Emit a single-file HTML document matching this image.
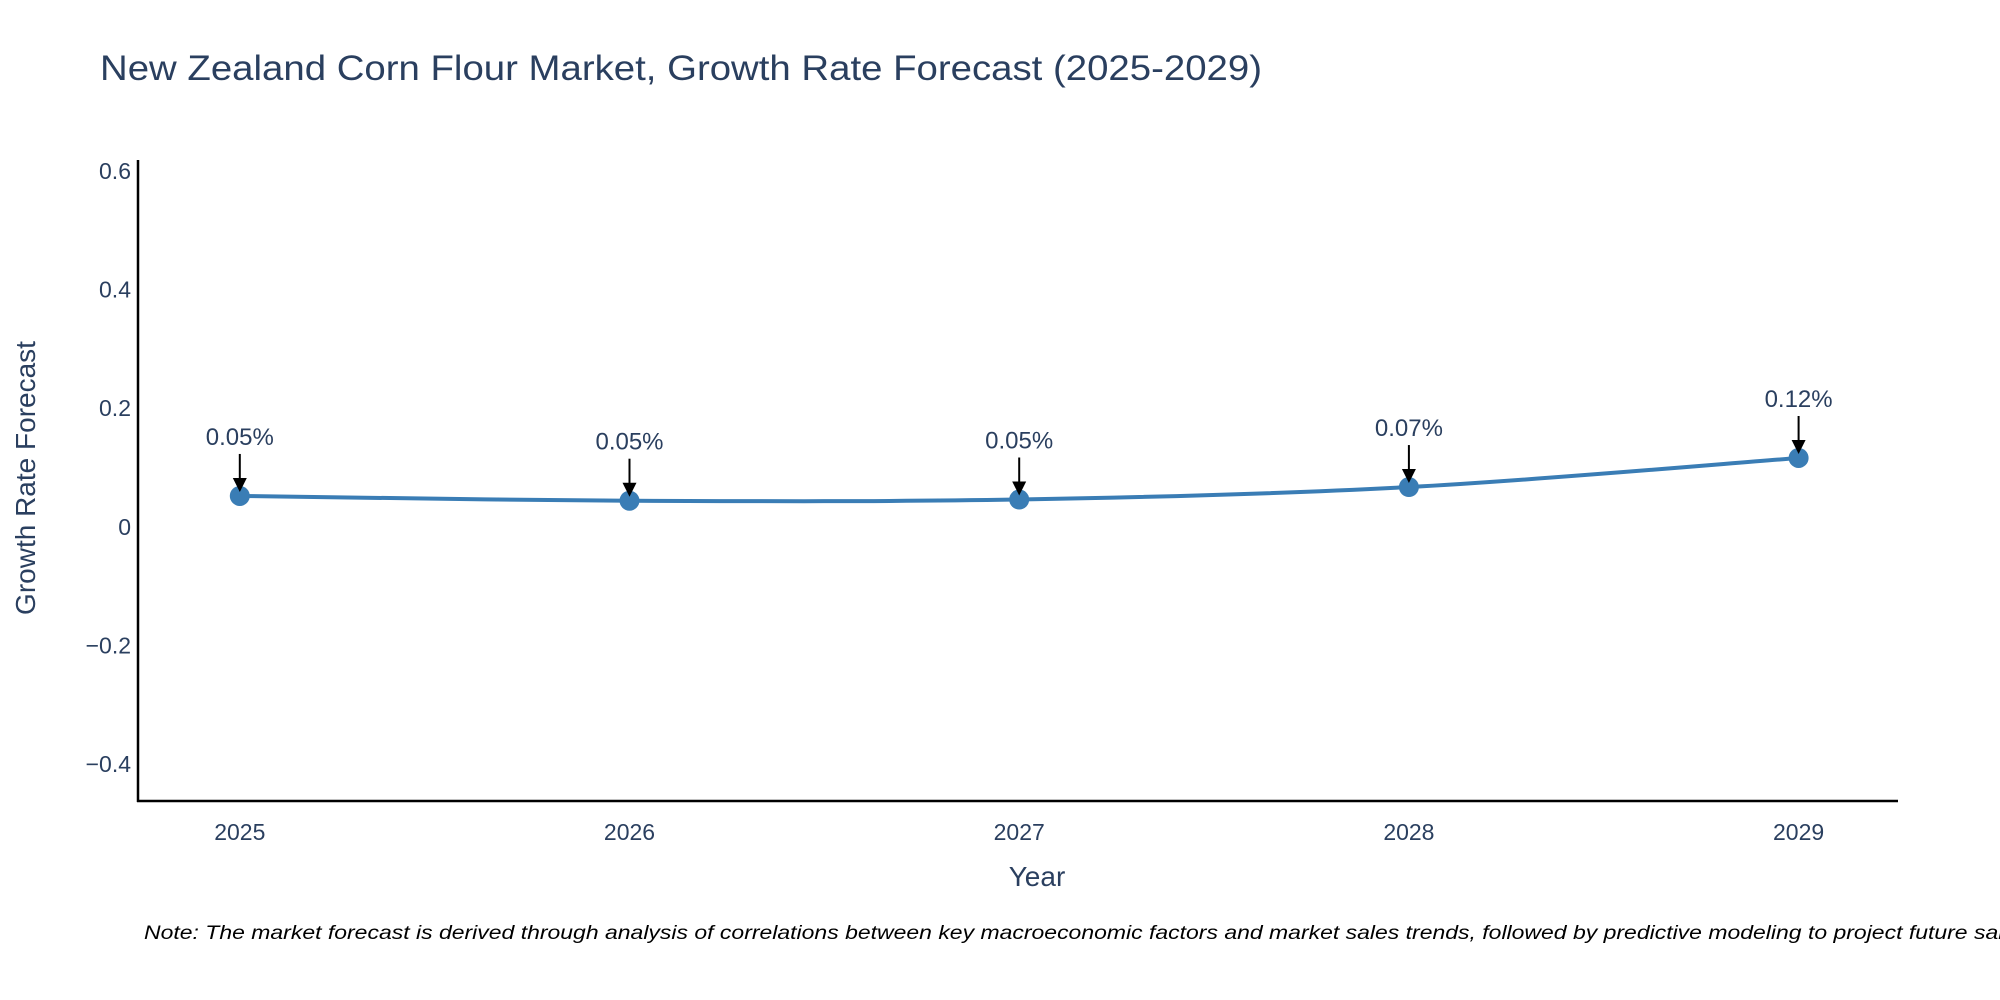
<!DOCTYPE html>
<html><head><meta charset="utf-8"><style>
html,body{margin:0;padding:0;background:#fff;width:2000px;height:1000px;overflow:hidden}
svg{display:block;font-family:"Liberation Sans","DejaVu Sans",sans-serif}
</style></head><body>
<svg id="chart" width="2000" height="1000" viewBox="0 0 2000 1000" xmlns="http://www.w3.org/2000/svg">
<text x="100" y="80" font-size="35" fill="#2a3f5f" textLength="1162" lengthAdjust="spacingAndGlyphs">New Zealand Corn Flour Market, Growth Rate Forecast (2025-2029)</text>
<g id="yticks"></g>
<g id="xticks"></g>
<line x1="138" y1="160" x2="138" y2="802" stroke="#000" stroke-width="2.5"/>
<line x1="137" y1="801" x2="1898" y2="801" stroke="#000" stroke-width="2.5"/>
<text transform="translate(35,478) rotate(-90)" text-anchor="middle" font-size="28" fill="#2a3f5f">Growth Rate Forecast</text>
<text x="1037" y="886" text-anchor="middle" font-size="28" fill="#2a3f5f">Year</text>
<g id="series"></g>
<g id="annots"></g>
<text x="144" y="939" font-size="19" font-style="italic" fill="#000" textLength="1890" lengthAdjust="spacingAndGlyphs">Note: The market forecast is derived through analysis of correlations between key macroeconomic factors and market sales trends, followed by predictive modeling to project future sales.</text>
</svg>
<script>
const years = [2025, 2026, 2027, 2028, 2029];
const growth = [0.052, 0.044, 0.046, 0.067, 0.116];
const labels = ["0.05%", "0.05%", "0.05%", "0.07%", "0.12%"];
const yTickValues = [-0.4, -0.2, 0, 0.2, 0.4, 0.6];
const yTickLabels = ["\u22120.4", "\u22120.2", "0", "0.2", "0.4", "0.6"];

const NS = "http://www.w3.org/2000/svg";
function xScale(yr){ return 239.8 + (yr - 2025) * 389.7; }
function yScale(v){ return 526.8 - v * 593.2; }
function mk(tag, attrs, parent){
  const e = document.createElementNS(NS, tag);
  for (const k in attrs) e.setAttribute(k, attrs[k]);
  parent.appendChild(e); return e;
}
const yt = document.getElementById('yticks');
yTickValues.forEach((v, i) => {
  const t = mk('text', {x:131, y:yScale(v)+8, 'text-anchor':'end', 'font-size':23, fill:'#2a3f5f'}, yt);
  
  
  t.textContent = yTickLabels[i];
});
const xt = document.getElementById('xticks');
years.forEach(yr => {
  const t = mk('text', {x:xScale(yr), y:840, 'text-anchor':'middle', 'font-size':23, fill:'#2a3f5f'}, xt);
  
  
  t.textContent = String(yr);
});
const pts = years.map((yr, i) => [xScale(yr), yScale(growth[i])]);
let d = "M" + pts[0][0] + "," + pts[0][1];
for (let i = 0; i < pts.length - 1; i++) {
  const p0 = pts[Math.max(0, i-1)], p1 = pts[i], p2 = pts[i+1], p3 = pts[Math.min(pts.length-1, i+2)];
  const c1 = [p1[0] + (p2[0]-p0[0])/6, p1[1] + (p2[1]-p0[1])/6];
  const c2 = [p2[0] - (p3[0]-p1[0])/6, p2[1] - (p3[1]-p1[1])/6];
  d += " C" + c1 + " " + c2 + " " + p2;
}
const s = document.getElementById('series');
const line = mk('path', {d:d, fill:'none', stroke:'#3a7db5', 'stroke-width':4}, s);


pts.forEach(p => {
  const c = mk('circle', {cx:p[0], cy:p[1], r:10, fill:'#3a7db5'}, s);
  
  
});
const a = document.getElementById('annots');
pts.forEach((p, i) => {
  const ln = mk('line', {x1:p[0], y1:p[1]-42, x2:p[0], y2:p[1]-16, stroke:'#000', 'stroke-width':2}, a);
  
  
  const hd = mk('polygon', {points:(p[0]-7)+","+(p[1]-18)+" "+(p[0]+7)+","+(p[1]-18)+" "+p[0]+","+(p[1]-4), fill:'#000'}, a);
  
  
  const t = mk('text', {x:p[0], y:p[1]-51, 'text-anchor':'middle', 'font-size':24, fill:'#2a3f5f'}, a);
  
  
  t.textContent = labels[i];
});
</script>
</body></html>
